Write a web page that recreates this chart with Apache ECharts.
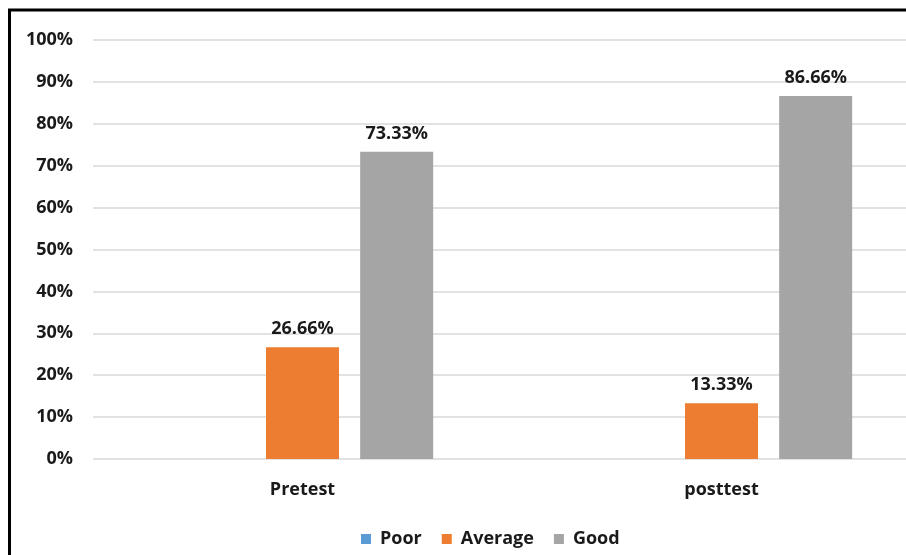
<!DOCTYPE html>
<html>
<head>
<meta charset="utf-8">
<script src="https://cdn.jsdelivr.net/npm/echarts@6/dist/echarts.min.js"></script>
<style>
  html, body { margin: 0; padding: 0; background: #fff; overflow: hidden; }
  #chart { width: 950px; height: 555px; }
</style>
</head>
<body>
<div id="chart"></div>
<script>
const categories = ['Pretest', 'posttest'];
const seriesNames = ['Poor', 'Average', 'Good'];
const poor = [0, 0];
const average = [26.66, 13.33];
const good = [73.33, 86.66];
const colors = ['#5B9BD5', '#ED7D31', '#A5A5A5'];

const font = '"Open Sans", "Noto Sans", sans-serif';

var myChart = echarts.init(document.getElementById('chart'));

function barSeries(name, data, color, showLabel) {
    return {
        name: name,
        type: 'bar',
        data: data,
        barWidth: 73,
        barGap: '29%',
        itemStyle: { color: color },
        label: {
            show: showLabel,
            position: 'top',
            distance: 9,
            formatter: p => p.value.toFixed(2) + '%',
            fontFamily: font,
            fontWeight: 'bold',
            fontSize: 18,
            color: '#1a1a1a'
        }
    };
}

var option = {
    animation: false,
    graphic: [{
        type: 'rect',
        shape: { x: 9.5, y: 10, width: 1000, height: 1000 },
        style: { fill: 'none', stroke: '#000', lineWidth: 3 }
    }],
    grid: {
        left: 93,
        top: 40,
        width: 838,
        height: 419
    },
    legend: {
        data: seriesNames,
        bottom: 2,
        left: 356,
        itemWidth: 10,
        itemHeight: 10,
        itemGap: 20,
        icon: 'rect',
        textStyle: {
            fontFamily: font,
            fontWeight: 'bold',
            fontSize: 18,
            color: '#1a1a1a',
            padding: [0, 0, 0, 4]
        }
    },
    xAxis: {
        type: 'category',
        data: categories,
        axisLine: { show: false },
        axisTick: { show: false },
        axisLabel: {
            margin: 22,
            fontFamily: font,
            fontWeight: 'bold',
            fontSize: 18,
            color: '#1a1a1a'
        }
    },
    yAxis: {
        type: 'value',
        min: 0,
        max: 100,
        interval: 10,
        axisLine: { show: false },
        axisTick: { show: false },
        splitLine: { lineStyle: { color: '#d9d9d9', width: 1.5 } },
        axisLabel: {
            margin: 20,
            formatter: '{value}%',
            fontFamily: font,
            fontWeight: 'bold',
            fontSize: 18,
            color: '#1a1a1a'
        }
    },
    series: [
        barSeries('Poor', poor, colors[0], false),
        barSeries('Average', average, colors[1], true),
        barSeries('Good', good, colors[2], true)
    ]
};

option && myChart.setOption(option);
</script>
</body>
</html>
